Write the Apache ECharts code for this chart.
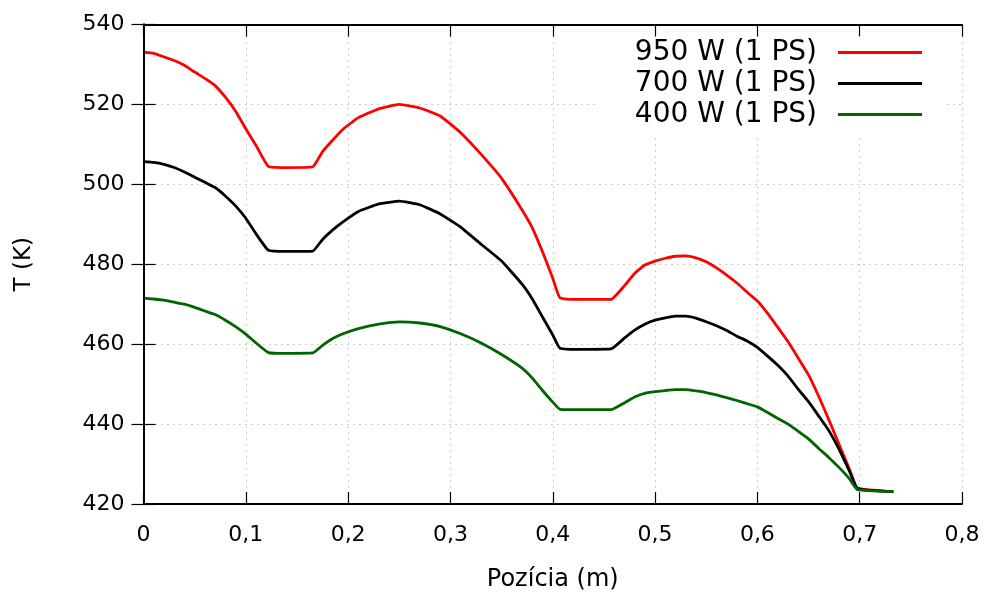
<!DOCTYPE html>
<html>
<head>
<meta charset="utf-8">
<script src="https://cdn.jsdelivr.net/npm/echarts@6/dist/echarts.min.js"></script>
<style>html,body{margin:0;padding:0;background:#fff}#c{width:984px;height:593px}</style>
</head>
<body>
<div id="c"></div>
<script>
// ---- data ----
var seriesNames = ['950 W (1 PS)', '700 W (1 PS)', '400 W (1 PS)'];
var xTickLabels = ['0', '0,1', '0,2', '0,3', '0,4', '0,5', '0,6', '0,7', '0,8'];
var yTickLabels = ['420', '440', '460', '480', '500', '520', '540'];

// positions along the pipe (m)
var xPos = [0, 0.01, 0.02, 0.03, 0.04, 0.05, 0.06, 0.07, 0.08, 0.09, 0.10, 0.11, 0.122, 0.14, 0.1655, 0.175, 0.185, 0.195, 0.21, 0.23, 0.25, 0.27, 0.29, 0.31, 0.33, 0.35, 0.37, 0.38, 0.39, 0.40, 0.407, 0.43, 0.457, 0.47, 0.48, 0.49, 0.50, 0.51, 0.52, 0.53, 0.54, 0.55, 0.56, 0.57, 0.58, 0.59, 0.60, 0.61, 0.62, 0.63, 0.64, 0.65, 0.66, 0.67, 0.68, 0.69, 0.6977, 0.7329];

var t950 = [533.1, 532.8, 531.9, 531.0, 529.8, 528.1, 526.5, 524.7, 521.8, 518.3, 513.9, 509.7, 504.5, 504.2, 504.4, 508.2, 511.1, 513.8, 516.7, 518.9, 520.0, 519.1, 517.1, 512.9, 507.5, 501.5, 493.6, 489.1, 483.1, 476.5, 471.6, 471.2, 471.2, 474.6, 477.7, 479.8, 480.8, 481.5, 482.0, 482.1, 481.6, 480.6, 479.1, 477.3, 475.3, 473.0, 470.8, 467.7, 464.2, 460.6, 456.5, 452.3, 446.9, 441.0, 434.8, 428.7, 424.0, 423.1];

var t700 = [505.7, 505.5, 505.0, 504.2, 503.1, 501.8, 500.5, 499.2, 497.1, 494.6, 491.5, 487.6, 483.5, 483.2, 483.3, 486.2, 488.6, 490.6, 493.2, 495.1, 495.8, 494.9, 492.6, 489.3, 485.0, 480.8, 475.0, 471.3, 466.8, 462.3, 459.0, 458.7, 458.8, 461.5, 463.5, 465.0, 466.0, 466.6, 467.0, 467.0, 466.5, 465.6, 464.6, 463.4, 462.0, 460.8, 459.2, 457.0, 454.7, 452.0, 448.7, 445.6, 442.0, 438.3, 433.6, 428.2, 423.9, 423.1];

var t400 = [471.5, 471.3, 471.0, 470.5, 470.0, 469.2, 468.3, 467.4, 466.0, 464.4, 462.5, 460.3, 457.9, 457.7, 457.8, 459.7, 461.4, 462.6, 463.9, 465.0, 465.6, 465.3, 464.4, 462.6, 460.3, 457.4, 454.0, 451.5, 448.4, 445.5, 443.7, 443.6, 443.6, 445.3, 446.8, 447.7, 448.1, 448.4, 448.6, 448.6, 448.3, 447.9, 447.3, 446.6, 445.9, 445.1, 444.3, 442.9, 441.4, 440.0, 438.2, 436.3, 433.9, 431.6, 429.1, 426.3, 423.6, 423.1];

var colors = ['#ff0000', '#000000', '#006400'];

function pairs(xs, ys) { return xs.map(function (x, i) { return [x, ys[i]]; }); }

var FONT = 'DejaVu Sans';
var chart = echarts.init(document.getElementById('c'), null, { renderer: 'canvas' });

var gridLine = { show: true, lineStyle: { color: '#9a9a9a', type: [1, 5], width: 1 } };
var axisLineStyle = { color: '#000', width: 1.8 };
var tickStyle = { color: '#000', width: 1.2 };

function mkSeries(i, ys) {
  return { name: seriesNames[i], type: 'line', data: pairs(xPos, ys), showSymbol: false, symbol: 'none',
    smooth: 0.12, lineStyle: { color: colors[i], width: 2.8 }, itemStyle: { color: colors[i] } };
}

var option = {
  animation: false,
  backgroundColor: '#fff',
  grid: { left: 143.5, right: 22, top: 24.5, bottom: 89, containLabel: false, outerBoundsMode: 'none' },
  legend: {
    orient: 'vertical', right: 39, top: 25, align: 'right',
    backgroundColor: '#fff',
    padding: [12, 23, 8, 36],
    itemWidth: 84, itemHeight: 3, itemGap: 0,
    icon: 'rect',
    z: 4,
    textStyle: { fontFamily: FONT, fontSize: 28, color: '#000', lineHeight: 31, padding: [0, 16, 0, 0] },
    data: seriesNames
  },
  xAxis: [{
    type: 'value', min: 0, max: 0.8, interval: 0.1,
    name: 'Pozícia (m)', nameLocation: 'middle', nameGap: 64,
    nameTextStyle: { fontFamily: FONT, fontSize: 24, color: '#000' },
    axisLine: { show: true, lineStyle: axisLineStyle },
    axisTick: { show: true, inside: true, length: 12, lineStyle: tickStyle },
    axisLabel: { margin: 20, fontFamily: FONT, fontSize: 22, color: '#000',
      formatter: function (v) { return xTickLabels[Math.round(v * 10)]; } },
    splitLine: gridLine, z: 0
  }, {
    type: 'value', min: 0, max: 0.8, interval: 0.1, position: 'top',
    axisLine: { show: true, lineStyle: axisLineStyle },
    axisTick: { show: true, inside: true, length: 12, lineStyle: tickStyle },
    axisLabel: { show: false }, splitLine: { show: false }, z: 5
  }],
  yAxis: [{
    type: 'value', min: 420, max: 540, interval: 20,
    name: 'T (K)', nameLocation: 'middle', nameGap: 108, nameRotate: 90,
    nameTextStyle: { fontFamily: FONT, fontSize: 23, color: '#000' },
    axisLine: { show: true, lineStyle: axisLineStyle },
    axisTick: { show: true, inside: true, length: 12, lineStyle: tickStyle },
    axisLabel: { margin: 19, fontFamily: FONT, fontSize: 22, color: '#000',
      formatter: function (v) { return yTickLabels[Math.round((v - 420) / 20)]; } },
    splitLine: gridLine, z: 0
  }, {
    type: 'value', min: 420, max: 540, interval: 20, position: 'right',
    axisLine: { show: true, lineStyle: axisLineStyle },
    axisTick: { show: true, inside: true, length: 12, lineStyle: tickStyle },
    axisLabel: { show: false }, splitLine: { show: false }, z: 5
  }],
  series: [mkSeries(0, t950), mkSeries(1, t700), mkSeries(2, t400)]
};
chart.setOption(option);
</script>
</body>
</html>
